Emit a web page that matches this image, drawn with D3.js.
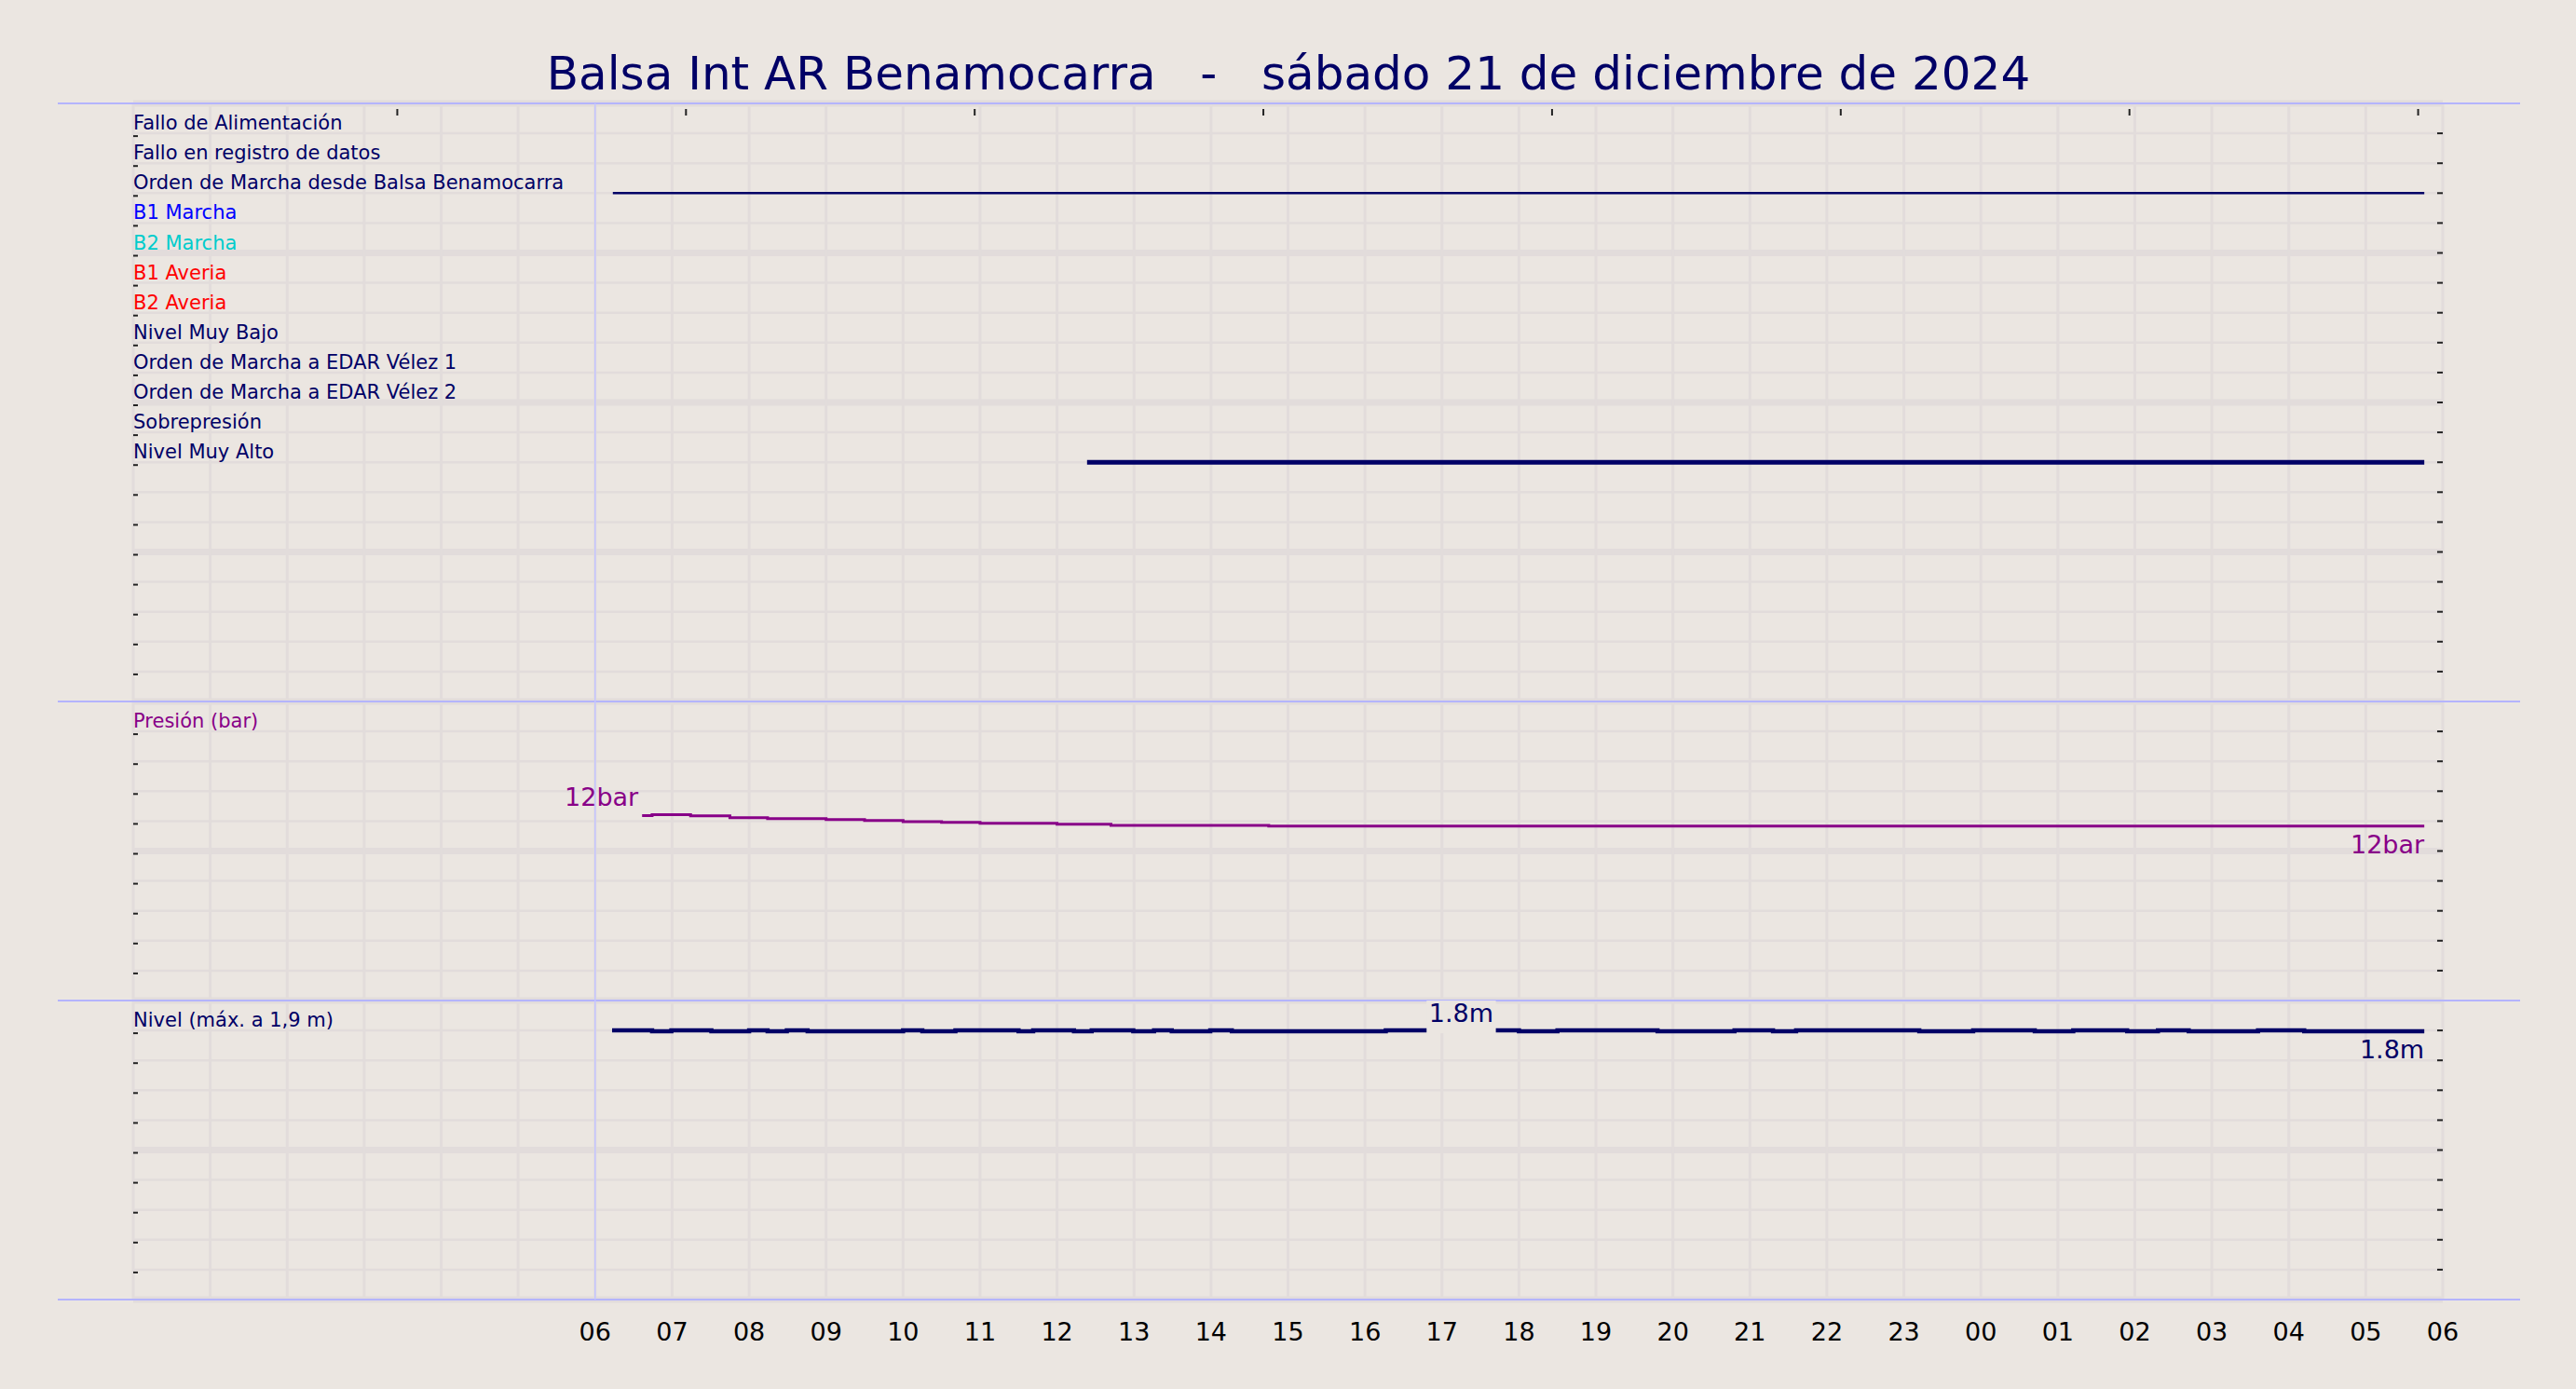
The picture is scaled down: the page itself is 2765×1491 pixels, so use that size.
<!DOCTYPE html>
<html>
<head>
<meta charset="utf-8">
<script src="https://cdn.jsdelivr.net/npm/d3@7"></script>
<style>
  body { margin: 0; background: #ebe6e1; }
  text { font-family: "DejaVu Sans", sans-serif; }
</style>
</head>
<body>
<script>
var W = 2765, H = 1491;

var title = "Balsa Int AR Benamocarra   -   sábado 21 de diciembre de 2024";
var hourLabels = ["06","07","08","09","10","11","12","13","14","15","16","17","18","19","20","21","22","23","00","01","02","03","04","05","06"];
var topTicks = [3.43, 7.18, 10.93, 14.68, 18.43, 22.18, 25.93, 29.68];

var signalNames = ["Fallo de Alimentación","Fallo en registro de datos","Orden de Marcha desde Balsa Benamocarra",
  "B1 Marcha","B2 Marcha","B1 Averia","B2 Averia","Nivel Muy Bajo","Orden de Marcha a EDAR Vélez 1",
  "Orden de Marcha a EDAR Vélez 2","Sobrepresión","Nivel Muy Alto"];
var signalColors = ["#000066","#000066","#000066","#0000ff","#00cccc","#ff0000","#ff0000","#000066","#000066","#000066","#000066","#000066"];
// active periods [row, start hour, end hour, width]
var signalOn = [[3, 6.23, 29.76, 2.5], [12, 12.39, 29.76, 5]];

// pressure (bar): [hour, value]
var pressure = [[6.61,12.37],[6.74,12.43],[7.24,12.35],[7.75,12.23],[8.24,12.16],[9.0,12.10],[9.5,12.04],
  [10.0,11.97],[10.5,11.91],[11.0,11.85],[12.0,11.79],[12.7,11.72],[14.75,11.66],[29.76,11.66]];

// level (m): [hour, value]
var level = [[6.22,1.80],[6.74,1.795],[6.99,1.80],[7.51,1.795],[8.0,1.80],[8.24,1.795],[8.49,1.80],[8.76,1.795],
  [10.0,1.80],[10.25,1.795],[10.68,1.80],[11.5,1.795],[11.69,1.80],[12.22,1.795],[12.45,1.80],[12.99,1.795],
  [13.26,1.80],[13.49,1.795],[13.99,1.80],[14.27,1.795],[14.73,1.795],[16.27,1.80],[16.8,1.80],[17.7,1.80],
  [18.0,1.795],[18.5,1.80],[19.8,1.795],[20.8,1.80],[21.3,1.795],[21.6,1.80],[23.2,1.795],[23.9,1.80],
  [24.7,1.795],[25.2,1.80],[25.9,1.795],[26.3,1.80],[26.7,1.795],[27.6,1.80],[28.2,1.795],[29.76,1.795]];

var plotLeft = 143, plotRight = 2622, plotTop = 111, rowH = 32.1;
var x = d3.scaleLinear().domain([0, 30]).range([plotLeft, plotRight]);
var rowY = function(r) { return plotTop + r * rowH; };
var p1Bottom = rowY(20), p2Bottom = rowY(30), p3Bottom = rowY(40);
var yP = d3.scaleLinear().domain([0, 20]).range([p2Bottom, p1Bottom]);
var yL = d3.scaleLinear().domain([0, 2]).range([p3Bottom, p2Bottom]);

var svg = d3.select("body").append("svg").attr("width", W).attr("height", H)
  .style("background", "#ebe6e1");

// grid
var g = svg.append("g");
d3.range(0, 41).forEach(function(r) {
  g.append("line").attr("x1", plotLeft).attr("x2", plotRight).attr("y1", rowY(r)).attr("y2", rowY(r))
    .attr("stroke", "#e2dcdb").attr("stroke-width", r % 5 == 0 ? 7 : 2.5);
});
d3.range(0, 31).forEach(function(h) {
  g.append("line").attr("x1", x(h)).attr("x2", x(h)).attr("y1", plotTop).attr("y2", p3Bottom)
    .attr("stroke", "#e2dcdb").attr("stroke-width", 3);
});
// panel separators
[plotTop, p1Bottom, p2Bottom, p3Bottom].forEach(function(y) {
  g.append("line").attr("x1", 62).attr("x2", 2705).attr("y1", y).attr("y2", y)
    .attr("stroke", "#b4b4ff").attr("stroke-width", 2);
});
g.append("line").attr("x1", x(6)).attr("x2", x(6)).attr("y1", plotTop).attr("y2", p3Bottom)
  .attr("stroke", "#c4c4ff").attr("stroke-width", 1.5);

// right ticks and left ticks
d3.range(1, 40).forEach(function(r) {
  if (r == 20 || r == 30) return;
  g.append("line").attr("x1", plotRight - 6).attr("x2", plotRight).attr("y1", rowY(r)).attr("y2", rowY(r))
    .attr("stroke", "#222").attr("stroke-width", 2);
  g.append("line").attr("x1", plotLeft).attr("x2", plotLeft + 5).attr("y1", rowY(r) + 3).attr("y2", rowY(r) + 3)
    .attr("stroke", "#222").attr("stroke-width", 2);
});
topTicks.forEach(function(h) {
  g.append("line").attr("x1", x(h)).attr("x2", x(h)).attr("y1", plotTop + 6).attr("y2", plotTop + 13)
    .attr("stroke", "#222").attr("stroke-width", 2);
});

// x labels
svg.selectAll(".hl").data(hourLabels).enter().append("text")
  .attr("x", function(d, i) { return x(6 + i); }).attr("y", p3Bottom + 44)
  .attr("text-anchor", "middle").attr("font-size", 27).attr("fill", "#000").text(function(d) { return d; });

// title
svg.append("text").attr("x", 1383).attr("y", 96).attr("text-anchor", "middle")
  .attr("font-size", 50).attr("fill", "#000066").style("white-space", "pre").text(title);

// signal labels
svg.selectAll(".sl").data(signalNames).enter().append("text")
  .attr("x", plotLeft).attr("y", function(d, i) { return rowY(i + 1) - 4; })
  .attr("font-size", 21).attr("fill", function(d, i) { return signalColors[i]; })
  .text(function(d) { return d; });

signalOn.forEach(function(s) {
  svg.append("line").attr("x1", x(s[1])).attr("x2", x(s[2])).attr("y1", rowY(s[0])).attr("y2", rowY(s[0]))
    .attr("stroke", "#000066").attr("stroke-width", s[3]);
});

// pressure
svg.append("text").attr("x", plotLeft).attr("y", rowY(21) - 4).attr("font-size", 21).attr("fill", "#880088").text("Presión (bar)");
var line = function(ys) {
  return d3.line().x(function(d) { return x(d[0]); }).y(function(d) { return ys(d[1]); }).curve(d3.curveStepAfter);
};
svg.append("path").datum(pressure).attr("d", line(yP)).attr("fill", "none")
  .attr("stroke", "#880088").attr("stroke-width", 3);
svg.append("text").attr("x", x(pressure[0][0]) - 4).attr("y", yP(pressure[0][1]) - 10).attr("text-anchor", "end")
  .attr("font-size", 27).attr("fill", "#880088").text("12bar");
svg.append("text").attr("x", x(29.76)).attr("y", yP(11.66) + 29).attr("text-anchor", "end")
  .attr("font-size", 27).attr("fill", "#880088").text("12bar");

// level
svg.append("text").attr("x", plotLeft).attr("y", rowY(31) - 4).attr("font-size", 21).attr("fill", "#000066").text("Nivel (máx. a 1,9 m)");
svg.append("path").datum(level).attr("d", line(yL)).attr("fill", "none")
  .attr("stroke", "#000066").attr("stroke-width", 4.5);
var mid = svg.append("g");
mid.append("rect").attr("x", x(16.8)).attr("y", yL(1.8) - 32).attr("width", x(17.7) - x(16.8)).attr("height", 35)
  .attr("fill", "#ebe6e1");
mid.append("text").attr("x", (x(16.8) + x(17.7)) / 2).attr("y", yL(1.8) - 9).attr("text-anchor", "middle")
  .attr("font-size", 27).attr("fill", "#000066").text("1.8m");
svg.append("text").attr("x", x(29.76)).attr("y", yL(1.795) + 29).attr("text-anchor", "end")
  .attr("font-size", 27).attr("fill", "#000066").text("1.8m");
</script>
</body>
</html>
